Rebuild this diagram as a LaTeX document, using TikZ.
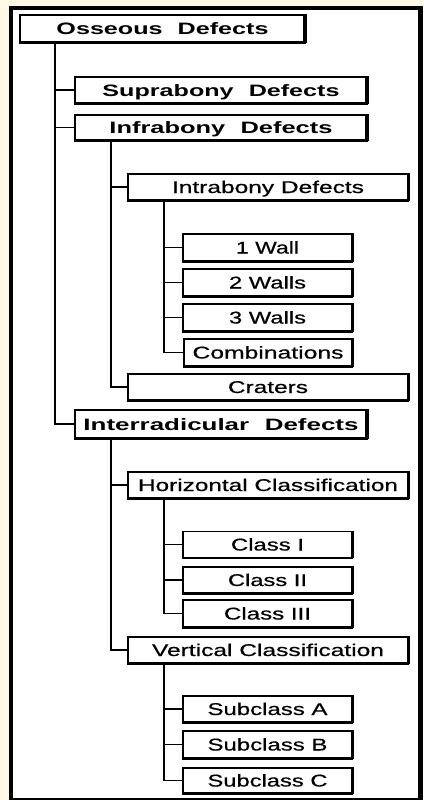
\documentclass[tikz,border=0pt]{standalone}
\usepackage{fontspec}
\usepackage{graphicx}
\setmainfont{Liberation Sans}
\newfontfamily\heavyreg[FakeBold=0.5]{Liberation Sans}
\newcommand\fitlbl[2]{\resizebox{#1pt}{\height}{#2}}
\definecolor{cream}{HTML}{FFF9E6}
\tikzset{
  box/.style={draw=black, line width=1.5pt, fill=white, inner sep=0pt,
    text height=12pt, text depth=0pt, align=center,
    font=\heavyreg\fontsize{17}{20}\selectfont},
  bbox/.style={box, line width=1.8pt, font=\fontsize{16.5}{20}\selectfont\bfseries},
  link/.style={draw=black, line width=1.9pt},
}
\begin{document}
\begin{tikzpicture}[x=1pt,y=-1pt]
\useasboundingbox (0,0) rectangle (423,800);
\fill[cream] (0,0) rectangle (423,800);
\fill[black] (9,6) rectangle (423,800);
\fill[white] (13,10) rectangle (418,798);

% level 0
\node[bbox, minimum width=285pt, minimum height=27pt] (oss) at (162.5,28.5) {\fitlbl{212}{Osseous\hspace{0.6em}Defects}};
% level 1
\node[bbox, minimum width=292pt, minimum height=26pt] (supra) at (221,90) {\fitlbl{237}{Suprabony\hspace{0.6em}Defects}};
\node[bbox, minimum width=292pt, minimum height=25pt] (infra) at (221,127.5) {\fitlbl{223}{Infrabony\hspace{0.6em}Defects}};
\node[bbox, minimum width=292pt, minimum height=28pt] (inter) at (221,424) {\fitlbl{275}{Interradicular\hspace{0.6em}Defects}};
% level 2
\node[box, minimum width=280pt, minimum height=26pt] (intra) at (268,187) {\fitlbl{192}{Intrabony Defects}};
\node[box, minimum width=280pt, minimum height=26pt] (crat) at (268,387) {\fitlbl{80}{Craters}};
\node[box, minimum width=280pt, minimum height=26pt] (horiz) at (268,485) {\fitlbl{260}{Horizontal Classification}};
\node[box, minimum width=280pt, minimum height=26pt] (vert) at (268,650) {\fitlbl{232}{Vertical Classification}};
% level 3
\node[box, minimum width=169pt, minimum height=27pt] (w1) at (267.5,247.5) {\fitlbl{63}{1 Wall}};
\node[box, minimum width=169pt, minimum height=27pt] (w2) at (267.5,282.5) {\fitlbl{77}{2 Walls}};
\node[box, minimum width=169pt, minimum height=27pt] (w3) at (267.5,317.5) {\fitlbl{77}{3 Walls}};
\node[box, minimum width=168pt, minimum height=27pt] (comb) at (268,352.5) {\fitlbl{151}{Combinations}};
\node[box, minimum width=169pt, minimum height=26pt] (c1) at (267.5,544.5) {\fitlbl{73}{Class I}};
\node[box, minimum width=169pt, minimum height=26pt] (c2) at (267.5,580) {\fitlbl{79}{Class II}};
\node[box, minimum width=169pt, minimum height=27pt] (c3) at (267.5,613.5) {\fitlbl{87}{Class III}};
\node[box, minimum width=169pt, minimum height=26pt] (sa) at (267.5,709) {\fitlbl{120}{Subclass A}};
\node[box, minimum width=169pt, minimum height=27pt] (sb) at (267.5,744.5) {\fitlbl{120}{Subclass B}};
\node[box, minimum width=169pt, minimum height=25pt] (sc) at (267.5,780.5) {\fitlbl{120}{Subclass C}};

% thick right / bottom edges (shadow look)
\foreach \n in {oss,supra,infra,inter}{
  \draw[line width=4pt] ([xshift=-1pt]\n.north east) -- ([xshift=-1pt]\n.south east);
  \draw[line width=2.6pt] (\n.south west) -- (\n.south east);
}
\foreach \n in {intra,crat,horiz,vert,w1,w2,w3,comb,c1,c2,c3,sa,sb,sc}{
  \draw[line width=2.6pt] (\n.north east) -- (\n.south east);
  \draw[line width=2.2pt] (\n.south west) -- (\n.south east);
}

% connectors
\coordinate (t0) at ([xshift=36pt]oss.south west);
\foreach \c in {supra,infra,inter} \draw[link] (t0) |- (\c.west);
\coordinate (t1) at ([xshift=37pt]infra.south west);
\foreach \c in {intra,crat} \draw[link] (t1) |- (\c.west);
\coordinate (t2) at ([xshift=37pt]intra.south west);
\foreach \c in {w1,w2,w3,comb} \draw[link] (t2) |- (\c.west);
\coordinate (t3) at ([xshift=37pt]inter.south west);
\foreach \c in {horiz,vert} \draw[link] (t3) |- (\c.west);
\coordinate (t4) at ([xshift=37pt]horiz.south west);
\foreach \c in {c1,c2,c3} \draw[link] (t4) |- (\c.west);
\coordinate (t5) at ([xshift=37pt]vert.south west);
\foreach \c in {sa,sb,sc} \draw[link] (t5) |- (\c.west);
\end{tikzpicture}
\end{document}
